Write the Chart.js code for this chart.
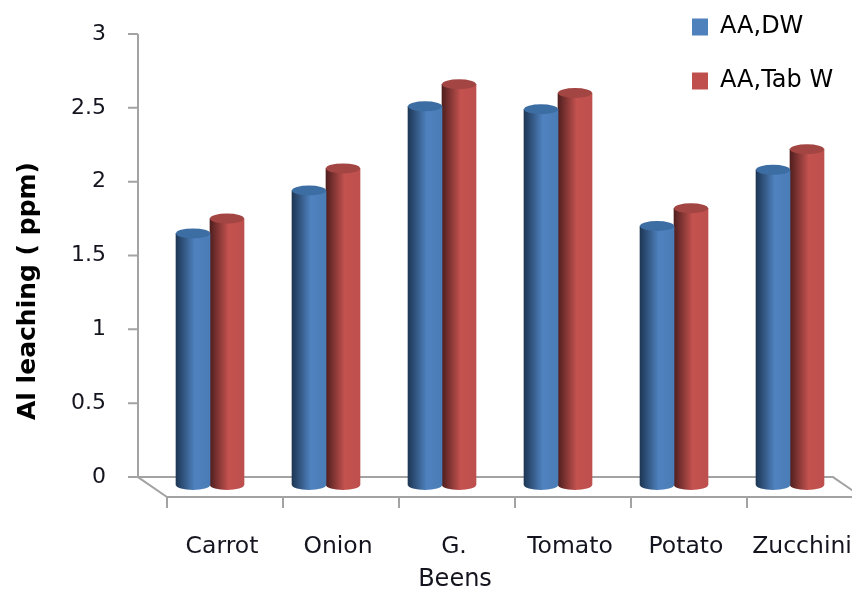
<!DOCTYPE html>
<html>
<head>
<meta charset="utf-8">
<title>Al leaching</title>
<script src="https://cdn.jsdelivr.net/npm/chart.js@4"></script>
<style>
  html, body { margin: 0; padding: 0; background: #fff; }
  #wrap { width: 852px; height: 592px; }
</style>
</head>
<body>
<div id="wrap"><canvas id="myChart" width="852" height="592"></canvas></div>
<script>
const categories = ['Carrot', 'Onion', 'G.', 'Tomato', 'Potato', 'Zucchini'];
const seriesNames = ['AA,DW', 'AA,Tab W'];
const aaDw = [1.65, 1.94, 2.51, 2.49, 1.70, 2.08];
const aaTabW = [1.75, 2.09, 2.66, 2.60, 1.82, 2.22];
const yTicks = [0, 0.5, 1, 1.5, 2, 2.5, 3];

const textColor = '#14141f';
const axisColor = '#a3a3a3';
const fontName = '"DejaVu Sans", sans-serif';

// [left edge, highlight, right edge, top cap, legend swatch]
const blueTones = ['#1d3654', '#4f82bf', '#4a7cb6', '#3c6da3', '#4f81bd'];
const redTones = ['#4f1f1e', '#c4524f', '#bd4f4c', '#a34543', '#c0504d'];

const barWidth = 34;
const floorDepth = -0.135;   // front edge of the floor, in axis units
const barBase = -0.054;      // where the cylinders stand on the floor
const capHeight = 5;

function cylinderFill(chart, centerX, tones) {
   const g = chart.ctx.createLinearGradient(centerX - barWidth / 2, 0, centerX + barWidth / 2, 0);
   g.addColorStop(0, tones[0]);
   g.addColorStop(0.55, tones[1]);
   g.addColorStop(1, tones[2]);
   return g;
}

function barFill(tones, side) {
   return (c) => {
      const x = c.chart.scales.x;
      if (!x || c.dataIndex === undefined) return tones[4];
      return cylinderFill(c.chart, x.getPixelForValue(c.dataIndex) + side * barWidth / 2, tones);
   };
}

// floor, axis lines and tick marks of the 3D frame, plus the two axis names
const framePlugin = {
   id: 'frame',
   beforeDatasetsDraw(chart) {
      const ctx = chart.ctx;
      const { x, y } = chart.scales;
      const axisX = 138;
      const backY = y.getPixelForValue(0);
      const frontY = y.getPixelForValue(floorDepth);
      const cell = x.getPixelForValue(1) - x.getPixelForValue(0);

      ctx.save();
      ctx.strokeStyle = axisColor;
      ctx.lineWidth = 2;
      ctx.beginPath();
      ctx.moveTo(axisX, y.getPixelForValue(3));
      ctx.lineTo(axisX, backY);
      ctx.lineTo(833, backY);
      ctx.lineTo(862, frontY);
      ctx.lineTo(axisX + 29, frontY);
      ctx.lineTo(axisX, backY);
      yTicks.forEach((v) => {
         ctx.moveTo(128, y.getPixelForValue(v));
         ctx.lineTo(axisX, y.getPixelForValue(v));
      });
      for (let i = 0; i < categories.length; i++) {
         const tx = x.getPixelForValue(i) - cell / 2 + 15;
         ctx.moveTo(tx, frontY);
         ctx.lineTo(tx, frontY + 11);
      }
      ctx.stroke();

      ctx.textAlign = 'center';
      ctx.textBaseline = 'middle';
      ctx.fillStyle = textColor;
      ctx.font = '24px ' + fontName;
      ctx.fillText('Beens', 455, 580);

      ctx.translate(28, 291);
      ctx.rotate(-Math.PI / 2);
      ctx.fillStyle = '#000';
      ctx.font = 'bold 25px ' + fontName;
      ctx.fillText('Al leaching ( ppm)', 0, 0);
      ctx.restore();
   }
};

// round ends of the cylinders
const capsPlugin = {
   id: 'caps',
   afterDatasetsDraw(chart) {
      const ctx = chart.ctx;
      const baseY = chart.scales.y.getPixelForValue(barBase);
      [blueTones, redTones].forEach((tones, i) => {
         chart.getDatasetMeta(i).data.forEach((bar) => {
            ctx.save();
            ctx.fillStyle = cylinderFill(chart, bar.x, tones);
            ctx.beginPath();
            ctx.ellipse(bar.x, baseY, barWidth / 2, capHeight, 0, 0, Math.PI);
            ctx.fill();
            ctx.fillStyle = tones[3];
            ctx.beginPath();
            ctx.ellipse(bar.x, bar.y, barWidth / 2, capHeight, 0, 0, Math.PI * 2);
            ctx.fill();
            ctx.restore();
         });
      });
   }
};

// keeps the legend column in the top right corner
const legendSpot = {
   id: 'legendSpot',
   afterLayout(chart) {
      const lg = chart.legend;
      lg.left = 662;
      lg.right = 852;
      lg.width = 190;
      lg.top = -15;
      lg.bottom = 200;
      lg.height = 215;
      lg.adjustHitBoxes();
   }
};

new Chart(document.getElementById('myChart'), {
   type: 'bar',
   data: {
      labels: categories,
      datasets: [
         { label: seriesNames[0], data: aaDw, backgroundColor: barFill(blueTones, -1), base: barBase, barThickness: barWidth },
         { label: seriesNames[1], data: aaTabW, backgroundColor: barFill(redTones, 1), base: barBase, barThickness: barWidth }
      ]
   },
   plugins: [framePlugin, capsPlugin, legendSpot],
   options: {
      responsive: false,
      animation: false,
      layout: { padding: { top: 34, right: 4, left: 0, bottom: 0 } },
      plugins: {
         tooltip: { enabled: false },
         legend: {
            position: 'chartArea',
            align: 'start',
            labels: {
               color: textColor,
               font: { family: fontName, size: 24 },
               boxWidth: 16,
               boxHeight: 17,
               padding: 30,
               generateLabels: () => [
                  { text: seriesNames[0], fillStyle: blueTones[4], lineWidth: 0, strokeStyle: 'transparent', datasetIndex: 0 },
                  { text: seriesNames[1], fillStyle: redTones[4], lineWidth: 0, strokeStyle: 'transparent', datasetIndex: 1 }
               ]
            }
         }
      },
      scales: {
         x: {
            afterFit(scale) {
               scale.height = 95;
               scale.paddingLeft = 0;
               scale.paddingRight = 0;
            },
            border: { display: false },
            grid: { display: false },
            ticks: {
               color: textColor,
               font: { family: fontName, size: 23.5 },
               padding: 28,
               labelOffset: 12,
               maxRotation: 0,
               autoSkip: false
            }
         },
         y: {
            min: floorDepth,
            max: 3,
            afterBuildTicks(scale) { scale.ticks = yTicks.map((v) => ({ value: v })); },
            afterFit(scale) {
               scale.width = 152;
               scale.paddingTop = 0;
               scale.paddingBottom = 0;
            },
            border: { display: false },
            grid: { display: false },
            ticks: {
               color: textColor,
               font: { family: fontName, size: 22 },
               padding: 38,
               callback: (v) => String(v)
            }
         }
      }
   }
});
</script>
</body>
</html>
